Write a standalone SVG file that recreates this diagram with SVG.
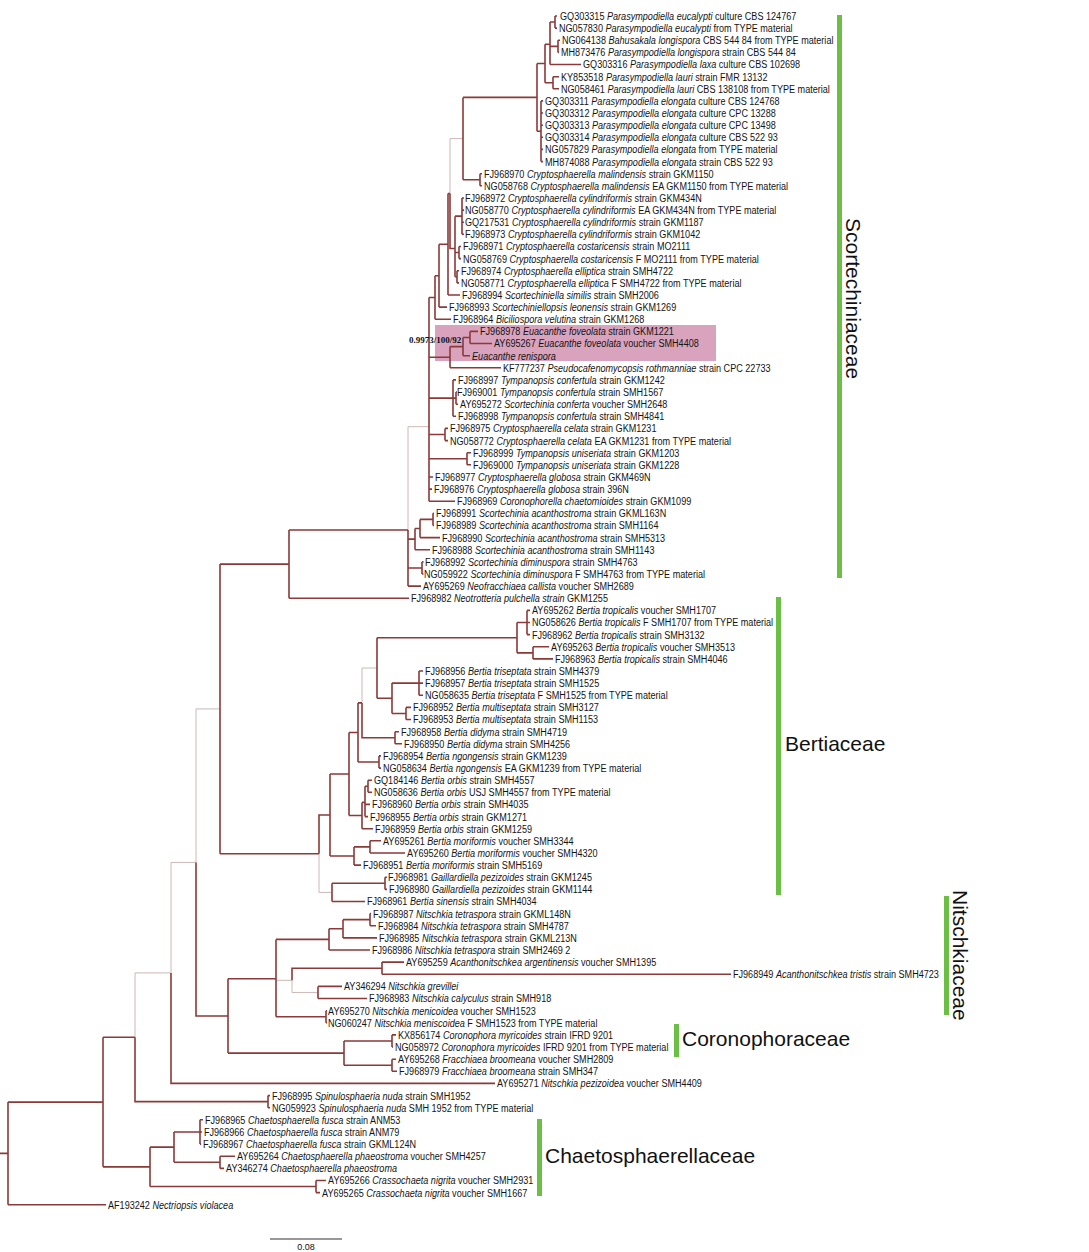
<svg xmlns="http://www.w3.org/2000/svg" width="1089" height="1252" viewBox="0 0 1089 1252">
<style>
.b{fill:none;stroke:#8b3a3a;stroke-width:1.6}
.t{fill:none;stroke:#ccb8b8;stroke-width:1}
.lb text{font-family:"Liberation Sans",Arial,sans-serif;font-size:11.5px;fill:#141414}
.i{font-style:italic}
.cl{font-family:"Liberation Sans",Arial,sans-serif;font-size:21px;fill:#111}
.bar{fill:#6cbf45}
</style>
<rect width="1089" height="1252" fill="#fff"/>
<rect id="highlight" x="435" y="325" width="281" height="36" fill="#d9a3bd"/>
<g id="branches">
<path class="t" d="M450 193.5V138.6H463M408 529.96V426.7H429M362 702.9V668H377M319 853.7V892.4H332M292 980.3V992.45H318M276 980.3H292M196 862.4V708.9H220M171 972.9V862.4H196M135 1037.3V972.9H171"/>
<path class="b" d="M555 16V28.1M555 16H557M555 28.1H557M558 40.3V52.4M558 40.3H560M558 52.4H559M550 22.05V64.5M550 22.05H555M550 46.35H558M550 64.5H581M553 76.7V88.8M553 76.7H559M553 88.8H559M545 44.3V82.75M545 44.3H550M545 82.75H553M541 100.9V161.6M541 100.9H543M541 113H543M541 125.2H543M541 137.3H543M541 149.4H543M541 161.6H543M537 63.5V131.25M537 63.5H545M537 131.25H541M480 173.7V185.8M480 173.7H482M480 185.8H482M463 97.4V179.75M463 97.4H537M463 179.75H480"/>
<path class="b" d="M462 198V234.3M462 198H464M462 210.1H464M462 222.2H464M462 234.3H464M459 246.5V258.6M459 246.5H461M459 258.6H461M457 270.7V282.9M457 270.7H459M457 282.9H459M455 216.15V276.8M455 216.15H462M455 252.55H459M455 276.8H457M450 193.5V248.5H455M448 193.5V295M448 193.5H450M448 295H460M439 244.3V307.1M439 244.3H448M439 307.1H447M435 275.7V319.3M435 275.7H439M435 319.3H451"/>
<path class="b" d="M470 331.4V343.5M470 331.4H478M470 343.5H492M463 337.45V355.7M463 337.45H470M463 355.7H470M450 346.6V367.8M450 346.6H463M450 367.8H501M456 392V404.2M456 392H457M456 404.2H458M453 379.9V416.3M453 379.9H456M453 398.1H456M453 416.3H456M445 428.4V440.6M445 428.4H448M445 440.6H448M467 452.7V464.8M467 452.7H471M467 464.8H471M429 297.5V501.2M429 297.5H435M429 357.2H450M429 398.1H453M429 434.5H445M429 458.75H467M429 477H433M429 489.1H432M429 501.2H455"/>
<path class="b" d="M433 513.3V525.5M433 513.3H434M433 525.5H434M420 519.4V537.6M420 519.4H433M420 537.6H440M415 528.5V549.7M415 528.5H420M415 549.7H430M422 561.9V574M422 561.9H423.5M422 574H423.5M408 529.96V586.1M408 539.1H415M408 567.95H422M408 586.1H421M289 529.96V598.2M289 529.96H408M289 598.2H409"/>
<path class="b" d="M527 610.4V634.6M527 610.4H530M527 622.5H530M527 634.6H530M533 646.8V658.9M533 646.8H549M533 658.9H553M517 622.5V652.85M517 622.5H527M517 652.85H533M419 671V695.3M419 671H423M419 683.1H423M419 695.3H423M406 707.4V719.5M406 707.4H411M406 719.5H411M392 683.1V713.45M392 683.1H419M392 713.45H406M377 637.7V698.3M377 637.7H517M377 698.3H392M395 731.7V743.8M395 731.7H399M395 743.8H402M362 702.9V737.75H395M379 755.9V768.1M379 755.9H381M379 768.1H381M358 702.9V762M358 702.9H362M358 762H379M368 780.2V792.3M368 780.2H372M368 792.3H372M365 786.25V816.6M365 786.25H368M365 804.4H370M365 816.6H368M362 802.4V828.7M362 802.4H365M362 828.7H373M349 732.45V815.55M349 732.45H358M349 815.55H362M370 840.8V853M370 840.8H381M370 853H405M354 846.9V865.1M354 846.9H370M354 865.1H361M330 774V856M330 774H349M330 856H354M385 877.2V889.4M385 877.2H387M385 889.4H387M332 883.3V901.5M332 883.3H385M332 901.5H365M319 853.7V815H330M220 564.1V853.7M220 564.1H289M220 853.7H319"/>
<path class="b" d="M370 913.6V925.7M370 913.6H371M370 925.7H376M343 919.65V937.9M343 919.65H370M343 937.9H377M329 928.8V950M329 928.8H343M329 950H370M382 962.1V974.3M382 962.1H404M382 974.3H731M318 986.4V998.5M318 986.4H342M318 998.5H367M292 980.3V968.2H382M326 1010.7V1022.8M326 1010.7H327M326 1022.8H327M276 939.4V1016.75M276 939.4H329M276 1016.75H326M392 1034.9V1047M392 1034.9H396M392 1047H393M392 1059.2V1071.3M392 1059.2H396M392 1071.3H397M344 1040.95V1065.25M344 1040.95H392M344 1065.25H392M228 978.8V1053.1M228 978.8H276M228 1053.1H344M196 862.4V1015.95H228M171 972.9V1083.4H495"/>
<path class="b" d="M268 1095.6V1107.7M268 1095.6H270M268 1107.7H270M135 1037.3V1101.65H268M200 1119.8V1144.1M200 1119.8H203M200 1132H202M200 1144.1H201M220 1156.2V1168.4M220 1156.2H235M220 1168.4H224M174 1132V1162.3M174 1132H200M174 1162.3H220M316 1180.5V1192.6M316 1180.5H326M316 1192.6H320M150 1147.15V1186.55M150 1147.15H174M150 1186.55H316M103 1037.3V1166.85M103 1037.3H135M103 1166.85H150M8 1102.1V1204.7M8 1102.1H103M8 1204.7H106M0 1153.4H8"/>
</g>
<g class="lb" transform="scale(0.79,1)">
<g id="n1"><text x="708.9" y="20">GQ303315 <tspan class="i">Parasympodiella eucalypti</tspan> culture CBS 124767</text></g>
<g id="n2"><text x="707.6" y="32.1">NG057830 <tspan class="i">Parasympodiella eucalypti</tspan> from TYPE material</text></g>
<g id="n3"><text x="711.4" y="44.3">NG064138 <tspan class="i">Bahusakala longispora</tspan> CBS 544 84 from TYPE material</text></g>
<g id="n4"><text x="710.1" y="56.4">MH873476 <tspan class="i">Parasympodiella longispora</tspan> strain CBS 544 84</text></g>
<g id="n5"><text x="738" y="68.5">GQ303316 <tspan class="i">Parasympodiella laxa</tspan> culture CBS 102698</text></g>
<g id="n6"><text x="710.1" y="80.7">KY853518 <tspan class="i">Parasympodiella lauri</tspan> strain FMR 13132</text></g>
<g id="n7"><text x="710.1" y="92.8">NG058461 <tspan class="i">Parasympodiella lauri</tspan> CBS 138108 from TYPE material</text></g>
<g id="n8"><text x="689.9" y="104.9">GQ303311 <tspan class="i">Parasympodiella elongata</tspan> culture CBS 124768</text></g>
<g id="n9"><text x="689.9" y="117">GQ303312 <tspan class="i">Parasympodiella elongata</tspan> culture CPC 13288</text></g>
<g id="n10"><text x="689.9" y="129.2">GQ303313 <tspan class="i">Parasympodiella elongata</tspan> culture CPC 13498</text></g>
<g id="n11"><text x="689.9" y="141.3">GQ303314 <tspan class="i">Parasympodiella elongata</tspan> culture CBS 522 93</text></g>
<g id="n12"><text x="689.9" y="153.4">NG057829 <tspan class="i">Parasympodiella elongata</tspan> from TYPE material</text></g>
<g id="n13"><text x="689.9" y="165.6">MH874088 <tspan class="i">Parasympodiella elongata</tspan> strain CBS 522 93</text></g>
<g id="n14"><text x="612.7" y="177.7">FJ968970 <tspan class="i">Cryptosphaerella malindensis</tspan> strain GKM1150</text></g>
<g id="n15"><text x="612.7" y="189.8">NG058768 <tspan class="i">Cryptosphaerella malindensis</tspan> EA GKM1150 from TYPE material</text></g>
<g id="n16"><text x="588.6" y="202">FJ968972 <tspan class="i">Cryptosphaerella cylindriformis</tspan> strain GKM434N</text></g>
<g id="n17"><text x="588.6" y="214.1">NG058770 <tspan class="i">Cryptosphaerella cylindriformis</tspan> EA GKM434N from TYPE material</text></g>
<g id="n18"><text x="588.6" y="226.2">GQ217531 <tspan class="i">Cryptosphaerella cylindriformis</tspan> strain GKM1187</text></g>
<g id="n19"><text x="588.6" y="238.3">FJ968973 <tspan class="i">Cryptosphaerella cylindriformis</tspan> strain GKM1042</text></g>
<g id="n20"><text x="586.1" y="250.5">FJ968971 <tspan class="i">Cryptosphaerella costaricensis</tspan> strain MO2111</text></g>
<g id="n21"><text x="586.1" y="262.6">NG058769 <tspan class="i">Cryptosphaerella costaricensis</tspan> F MO2111 from TYPE material</text></g>
<g id="n22"><text x="583.5" y="274.7">FJ968974 <tspan class="i">Cryptosphaerella elliptica</tspan> strain SMH4722</text></g>
<g id="n23"><text x="583.5" y="286.9">NG058771 <tspan class="i">Cryptosphaerella elliptica</tspan> F SMH4722 from TYPE material</text></g>
<g id="n24"><text x="584.8" y="299">FJ968994 <tspan class="i">Scortechiniella similis</tspan> strain SMH2006</text></g>
<g id="n25"><text x="568.4" y="311.1">FJ968993 <tspan class="i">Scortechiniellopsis leonensis</tspan> strain GKM1269</text></g>
<g id="n26"><text x="573.4" y="323.3">FJ968964 <tspan class="i">Biciliospora velutina</tspan> strain GKM1268</text></g>
<g id="n27"><text x="607.6" y="335.4">FJ968978 <tspan class="i">Euacanthe foveolata</tspan> strain GKM1221</text></g>
<g id="n28"><text x="625.3" y="347.5">AY695267 <tspan class="i">Euacanthe foveolata</tspan> voucher SMH4408</text></g>
<g id="n29"><text x="597.5" y="359.7"><tspan class="i">Euacanthe renispora</tspan></text></g>
<g id="n30"><text x="636.7" y="371.8">KF777237 <tspan class="i">Pseudocafenomycopsis rothmanniae</tspan> strain CPC 22733</text></g>
<g id="n31"><text x="579.7" y="383.9">FJ968997 <tspan class="i">Tympanopsis confertula</tspan> strain GKM1242</text></g>
<g id="n32"><text x="578.5" y="396">FJ969001 <tspan class="i">Tympanopsis confertula</tspan> strain SMH1567</text></g>
<g id="n33"><text x="582.3" y="408.2">AY695272 <tspan class="i">Scortechinia conferta</tspan> voucher SMH2648</text></g>
<g id="n34"><text x="579.7" y="420.3">FJ968998 <tspan class="i">Tympanopsis confertula</tspan> strain SMH4841</text></g>
<g id="n35"><text x="569.6" y="432.4">FJ968975 <tspan class="i">Cryptosphaerella celata</tspan> strain GKM1231</text></g>
<g id="n36"><text x="569.6" y="444.6">NG058772 <tspan class="i">Cryptosphaerella celata</tspan> EA GKM1231 from TYPE material</text></g>
<g id="n37"><text x="598.7" y="456.7">FJ968999 <tspan class="i">Tympanopsis uniseriata</tspan> strain GKM1203</text></g>
<g id="n38"><text x="598.7" y="468.8">FJ969000 <tspan class="i">Tympanopsis uniseriata</tspan> strain GKM1228</text></g>
<g id="n39"><text x="550.6" y="481">FJ968977 <tspan class="i">Cryptosphaerella globosa</tspan> strain GKM469N</text></g>
<g id="n40"><text x="549.4" y="493.1">FJ968976 <tspan class="i">Cryptosphaerella globosa</tspan> strain 396N</text></g>
<g id="n41"><text x="578.5" y="505.2">FJ968969 <tspan class="i">Coronophorella chaetomioides</tspan> strain GKM1099</text></g>
<g id="n42"><text x="551.9" y="517.3">FJ968991 <tspan class="i">Scortechinia acanthostroma</tspan> strain GKML163N</text></g>
<g id="n43"><text x="551.9" y="529.5">FJ968989 <tspan class="i">Scortechinia acanthostroma</tspan> strain SMH1164</text></g>
<g id="n44"><text x="559.5" y="541.6">FJ968990 <tspan class="i">Scortechinia acanthostroma</tspan> strain SMH5313</text></g>
<g id="n45"><text x="546.8" y="553.7">FJ968988 <tspan class="i">Scortechinia acanthostroma</tspan> strain SMH1143</text></g>
<g id="n46"><text x="538" y="565.9">FJ968992 <tspan class="i">Scortechinia diminuspora</tspan> strain SMH4763</text></g>
<g id="n47"><text x="536.7" y="578">NG059922 <tspan class="i">Scortechinia diminuspora</tspan> F SMH4763 from TYPE material</text></g>
<g id="n48"><text x="535.4" y="590.1">AY695269 <tspan class="i">Neofracchiaea callista</tspan> voucher SMH2689</text></g>
<g id="n49"><text x="520.3" y="602.2">FJ968982 <tspan class="i">Neotrotteria pulchella strain</tspan> GKM1255</text></g>
<g id="n50"><text x="673.4" y="614.4">AY695262 <tspan class="i">Bertia tropicalis</tspan> voucher SMH1707</text></g>
<g id="n51"><text x="673.4" y="626.5">NG058626 <tspan class="i">Bertia tropicalis</tspan> F SMH1707 from TYPE material</text></g>
<g id="n52"><text x="673.4" y="638.6">FJ968962 <tspan class="i">Bertia tropicalis</tspan> strain SMH3132</text></g>
<g id="n53"><text x="697.5" y="650.8">AY695263 <tspan class="i">Bertia tropicalis</tspan> voucher SMH3513</text></g>
<g id="n54"><text x="702.5" y="662.9">FJ968963 <tspan class="i">Bertia tropicalis</tspan> strain SMH4046</text></g>
<g id="n55"><text x="538" y="675">FJ968956 <tspan class="i">Bertia triseptata</tspan> strain SMH4379</text></g>
<g id="n56"><text x="538" y="687.1">FJ968957 <tspan class="i">Bertia triseptata</tspan> strain SMH1525</text></g>
<g id="n57"><text x="538" y="699.3">NG058635 <tspan class="i">Bertia triseptata</tspan> F SMH1525 from TYPE material</text></g>
<g id="n58"><text x="522.8" y="711.4">FJ968952 <tspan class="i">Bertia multiseptata</tspan> strain SMH3127</text></g>
<g id="n59"><text x="522.8" y="723.5">FJ968953 <tspan class="i">Bertia multiseptata</tspan> strain SMH1153</text></g>
<g id="n60"><text x="507.6" y="735.7">FJ968958 <tspan class="i">Bertia didyma</tspan> strain SMH4719</text></g>
<g id="n61"><text x="511.4" y="747.8">FJ968950 <tspan class="i">Bertia didyma</tspan> strain SMH4256</text></g>
<g id="n62"><text x="484.8" y="759.9">FJ968954 <tspan class="i">Bertia ngongensis</tspan> strain GKM1239</text></g>
<g id="n63"><text x="484.8" y="772.1">NG058634 <tspan class="i">Bertia ngongensis</tspan> EA GKM1239 from TYPE material</text></g>
<g id="n64"><text x="473.4" y="784.2">GQ184146 <tspan class="i">Bertia orbis</tspan> strain SMH4557</text></g>
<g id="n65"><text x="473.4" y="796.3">NG058636 <tspan class="i">Bertia orbis</tspan> USJ SMH4557 from TYPE material</text></g>
<g id="n66"><text x="470.9" y="808.4">FJ968960 <tspan class="i">Bertia orbis</tspan> strain SMH4035</text></g>
<g id="n67"><text x="468.4" y="820.6">FJ968955 <tspan class="i">Bertia orbis</tspan> strain GKM1271</text></g>
<g id="n68"><text x="474.7" y="832.7">FJ968959 <tspan class="i">Bertia orbis</tspan> strain GKM1259</text></g>
<g id="n69"><text x="484.8" y="844.8">AY695261 <tspan class="i">Bertia moriformis</tspan> voucher SMH3344</text></g>
<g id="n70"><text x="515.2" y="857">AY695260 <tspan class="i">Bertia moriformis</tspan> voucher SMH4320</text></g>
<g id="n71"><text x="459.5" y="869.1">FJ968951 <tspan class="i">Bertia moriformis</tspan> strain SMH5169</text></g>
<g id="n72"><text x="491.1" y="881.2">FJ968981 <tspan class="i">Gaillardiella pezizoides</tspan> strain GKM1245</text></g>
<g id="n73"><text x="492.4" y="893.4">FJ968980 <tspan class="i">Gaillardiella pezizoides</tspan> strain GKM1144</text></g>
<g id="n74"><text x="464.6" y="905.5">FJ968961 <tspan class="i">Bertia sinensis</tspan> strain SMH4034</text></g>
<g id="n75"><text x="472.2" y="917.6">FJ968987 <tspan class="i">Nitschkia tetraspora</tspan> strain GKML148N</text></g>
<g id="n76"><text x="478.5" y="929.7">FJ968984 <tspan class="i">Nitschkia tetraspora</tspan> strain SMH4787</text></g>
<g id="n77"><text x="479.7" y="941.9">FJ968985 <tspan class="i">Nitschkia tetraspora</tspan> strain GKML213N</text></g>
<g id="n78"><text x="470.9" y="954">FJ968986 <tspan class="i">Nitschkia tetraspora</tspan> strain SMH2469 2</text></g>
<g id="n79"><text x="513.9" y="966.1">AY695259 <tspan class="i">Acanthonitschkea argentinensis</tspan> voucher SMH1395</text></g>
<g id="n80"><text x="927.8" y="978.3">FJ968949 <tspan class="i">Acanthonitschkea tristis</tspan> strain SMH4723</text></g>
<g id="n81"><text x="435.4" y="990.4">AY346294 <tspan class="i">Nitschkia grevillei</tspan></text></g>
<g id="n82"><text x="467.1" y="1002.5">FJ968983 <tspan class="i">Nitschkia calyculus</tspan> strain SMH918</text></g>
<g id="n83"><text x="415.2" y="1014.7">AY695270 <tspan class="i">Nitschkia menicoidea</tspan> voucher SMH1523</text></g>
<g id="n84"><text x="415.2" y="1026.8">NG060247 <tspan class="i">Nitschkia meniscoidea</tspan> F SMH1523 from TYPE material</text></g>
<g id="n85"><text x="503.8" y="1038.9">KX856174 <tspan class="i">Coronophora myricoides</tspan> strain IFRD 9201</text></g>
<g id="n86"><text x="500" y="1051">NG058972 <tspan class="i">Coronophora myricoides</tspan> IFRD 9201 from TYPE material</text></g>
<g id="n87"><text x="503.8" y="1063.2">AY695268 <tspan class="i">Fracchiaea broomeana</tspan> voucher SMH2809</text></g>
<g id="n88"><text x="505.1" y="1075.3">FJ968979 <tspan class="i">Fracchiaea broomeana</tspan> strain SMH347</text></g>
<g id="n89"><text x="629.1" y="1087.4">AY695271 <tspan class="i">Nitschkia pezizoidea</tspan> voucher SMH4409</text></g>
<g id="n90"><text x="344.3" y="1099.6">FJ968995 <tspan class="i">Spinulosphaeria nuda</tspan> strain SMH1952</text></g>
<g id="n91"><text x="344.3" y="1111.7">NG059923 <tspan class="i">Spinulosphaeria nuda</tspan> SMH 1952 from TYPE material</text></g>
<g id="n92"><text x="259.5" y="1123.8">FJ968965 <tspan class="i">Chaetosphaerella fusca</tspan> strain ANM53</text></g>
<g id="n93"><text x="258.2" y="1136">FJ968966 <tspan class="i">Chaetosphaerella fusca</tspan> strain ANM79</text></g>
<g id="n94"><text x="257" y="1148.1">FJ968967 <tspan class="i">Chaetosphaerella fusca</tspan> strain GKML124N</text></g>
<g id="n95"><text x="300" y="1160.2">AY695264 <tspan class="i">Chaetosphaerella phaeostroma</tspan> voucher SMH4257</text></g>
<g id="n96"><text x="286.1" y="1172.4">AY346274 <tspan class="i">Chaetosphaerella phaeostroma</tspan></text></g>
<g id="n97"><text x="415.2" y="1184.5">AY695266 <tspan class="i">Crassochaeta nigrita</tspan> voucher SMH2931</text></g>
<g id="n98"><text x="407.6" y="1196.6">AY695265 <tspan class="i">Crassochaeta nigrita</tspan> voucher SMH1667</text></g>
<g id="n99"><text x="136.7" y="1208.7">AF193242 <tspan class="i">Nectriopsis violacea</tspan></text></g>
</g>
<g id="support"><text x="409" y="342.5" font-family="Liberation Serif,'Times New Roman',serif" font-weight="bold" font-size="9" fill="#111">0.9973/100/92</text></g>
<g id="clade-scortechiniaceae"><rect class="bar" x="837" y="15" width="5" height="563"/><text class="cl" transform="translate(846,218) rotate(90)">Scortechiniaceae</text></g>
<g id="clade-bertiaceae"><rect class="bar" x="776" y="597" width="5" height="298"/><text class="cl" x="785" y="751">Bertiaceae</text></g>
<g id="clade-nitschkiaceae"><rect class="bar" x="944" y="896" width="5" height="119"/><text class="cl" transform="translate(953,890) rotate(90)">Nitschkiaceae</text></g>
<g id="clade-coronophoraceae"><rect class="bar" x="674" y="1024" width="5" height="33"/><text class="cl" x="682" y="1046">Coronophoraceae</text></g>
<g id="clade-chaetosphaerellaceae"><rect class="bar" x="537" y="1119" width="5" height="77"/><text class="cl" x="545" y="1163">Chaetosphaerellaceae</text></g>
<g id="scale"><path d="M270 1239H342" stroke="#333" stroke-width="1.2"/><text x="306" y="1250" text-anchor="middle" font-family="Liberation Sans,Arial,sans-serif" font-size="9" fill="#111">0.08</text></g>
</svg>
